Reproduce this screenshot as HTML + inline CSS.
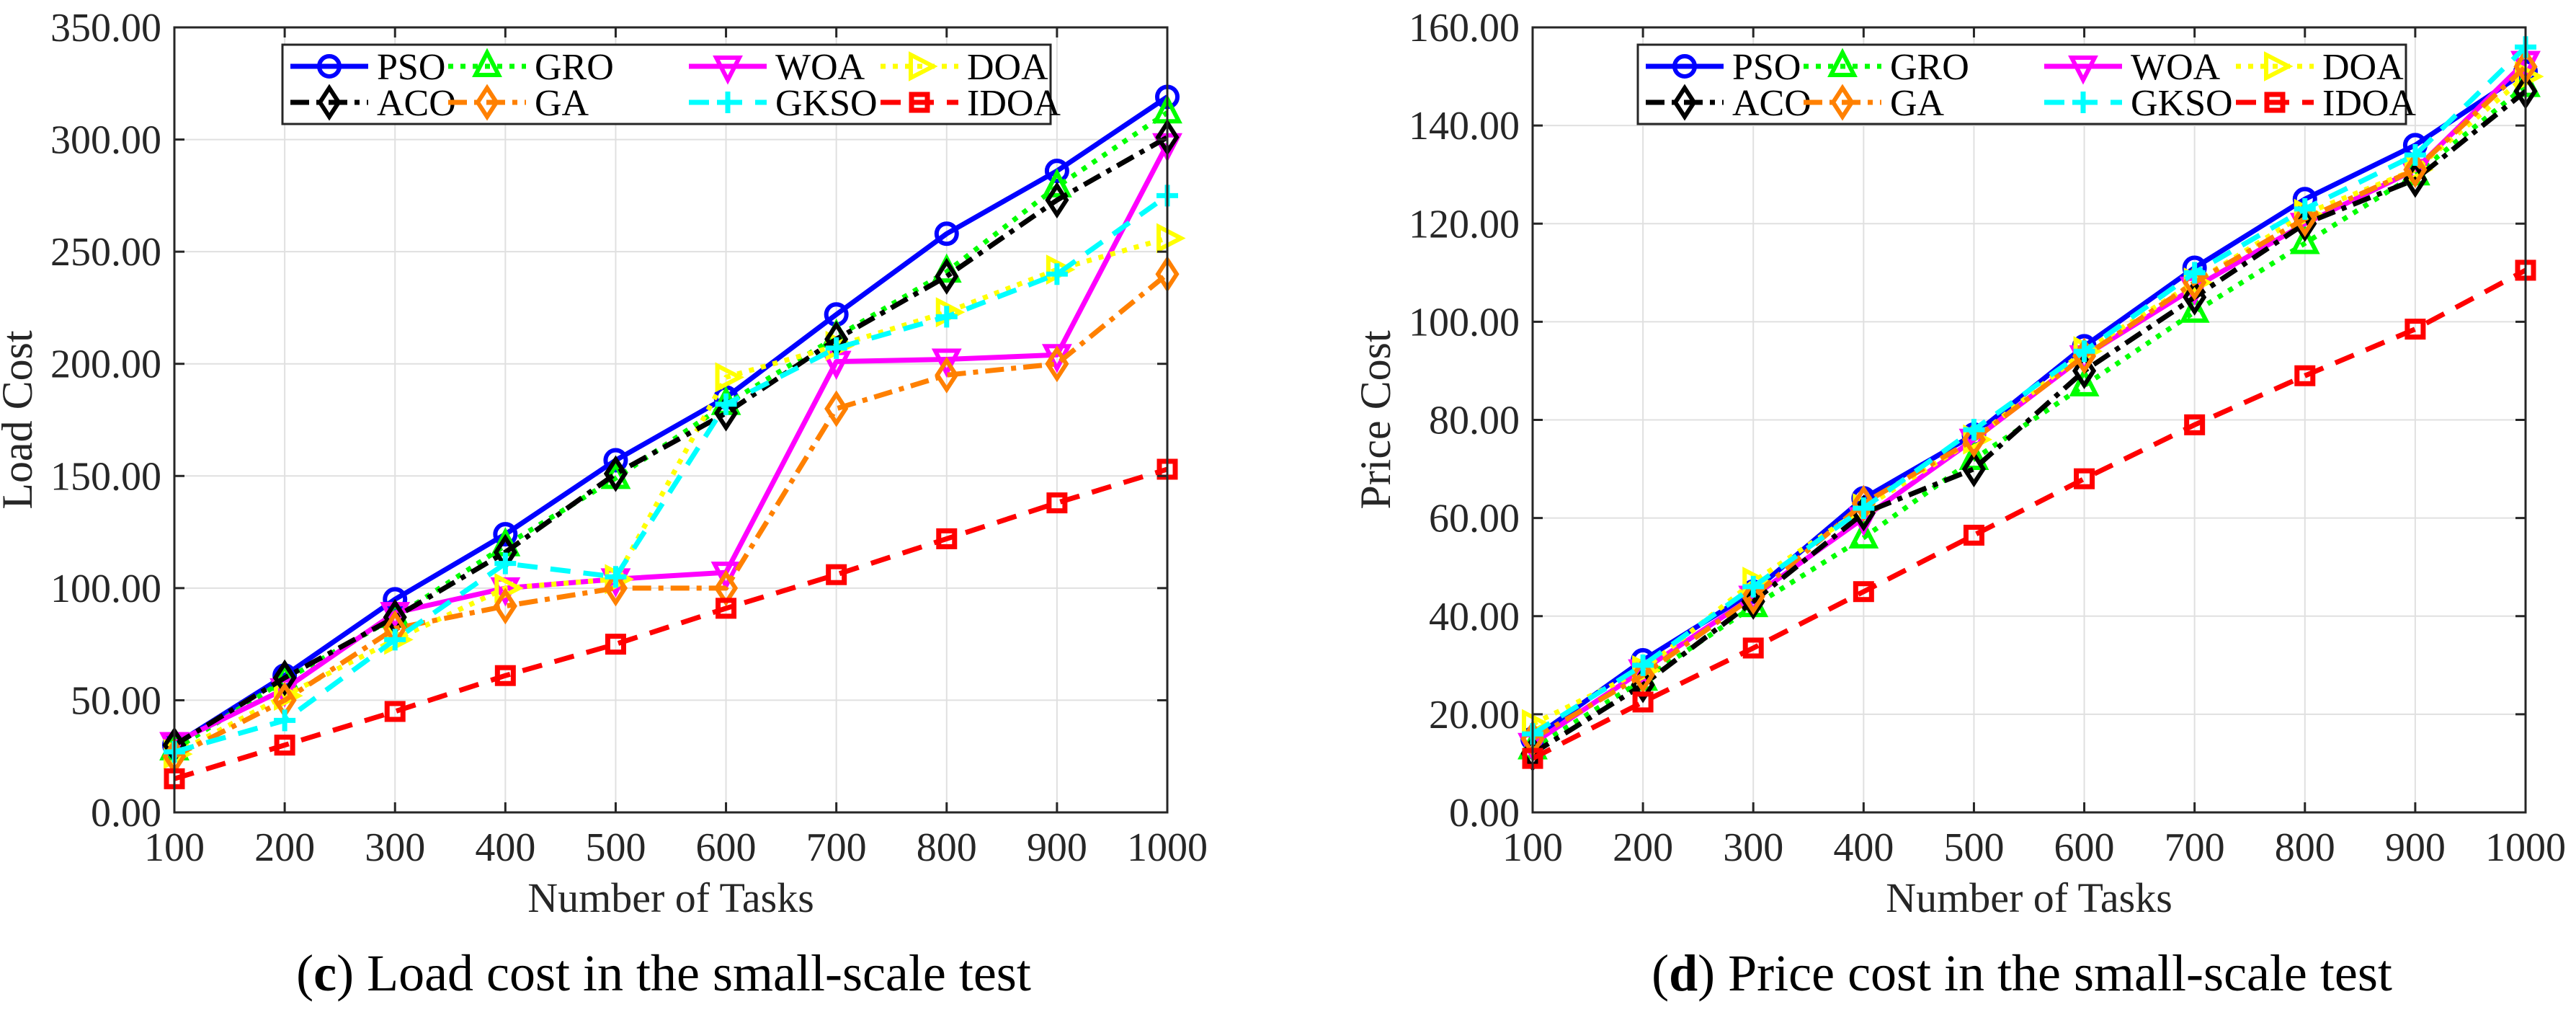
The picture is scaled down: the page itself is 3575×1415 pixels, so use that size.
<!DOCTYPE html>
<html><head><meta charset="utf-8"><style>
html,body{margin:0;padding:0;background:#fff;}
svg{display:block;}
svg text{font-family:"Liberation Serif","Times New Roman",serif;}
</style></head><body>
<svg id="fig" width="3575" height="1415" viewBox="0 0 3575 1415" xmlns="http://www.w3.org/2000/svg" font-family="Liberation Serif, serif"></svg>
<script>
const categories=[100,200,300,400,500,600,700,800,900,1000];
const seriesNames=["PSO","GRO","WOA","DOA","ACO","GA","GKSO","IDOA"];
// Load cost (c)
const loadPSO=[30,61,95,124,157,185,222,258,286,319];
const loadGRO=[28,59,87,119,149,182,212,241,279,312];
const loadWOA=[31,55,89,100,104,107,201,202,204,298];
const loadDOA=[26,52,77,100,104,194,208,223,242,256];
const loadACO=[30,60,87,116,151,178,211,239,273,301];
const loadGA=[25,50,82,92,100,100,180,195,200,240];
const loadGKSO=[27,41,77,111,105,182,207,221,240,275];
const loadIDOA=[15,30,45,61,75,91,106,122,138,153];
const loadTicks=["0.00","50.00","100.00","150.00","200.00","250.00","300.00","350.00"];
// Price cost (d)
const pricePSO=[15,31,45,64,77,95,111,125,136,151];
const priceGRO=[13,27,42,56,72,87,102,116,130,148];
const priceWOA=[14,29,44,60,76,93,107,120,131,153];
const priceDOA=[18,29,47,62,76,94,108,122,131,150];
const priceACO=[12,26,43,61,70,90,105,120,129,147];
const priceGA=[15,28,44,63,76,93,108,121,131,152];
const priceGKSO=[16,30,46,62,78,94,110,123,134,156];
const priceIDOA=[11,22.5,33.5,45,56.5,68,79,89,98.5,110.5];
const priceTicks=["0.00","20.00","40.00","60.00","80.00","100.00","120.00","140.00","160.00"];

const styles={
PSO:{c:"#0000ff",dash:"",m:"circle"},
GRO:{c:"#00ff00",dash:"7 10",m:"up"},
WOA:{c:"#ff00ff",dash:"",m:"down"},
DOA:{c:"#ffff00",dash:"7 10",m:"right"},
ACO:{c:"#000000",dash:"26 10 7 10",m:"diamond"},
GA:{c:"#ff8000",dash:"26 10 7 10",m:"diamond"},
GKSO:{c:"#00ffff",dash:"28 18",m:"plus"},
IDOA:{c:"#ff0000",dash:"28 18",m:"square"}};
const NS="http://www.w3.org/2000/svg";
const svg=document.getElementById("fig");
const FF="Liberation Serif, Times New Roman, serif";
function mk(tag,attrs,parent){const e=document.createElementNS(NS,tag);for(const k in attrs)e.setAttribute(k,attrs[k]);if(tag==="text")e.setAttribute("font-family",FF);(parent||svg).appendChild(e);return e;}
function marker(g,type,x,y,c){
  const s=16;let e;
  if(type==="circle")e=mk("circle",{cx:x,cy:y,r:14,fill:"none",stroke:c,"stroke-width":6},g);
  else if(type==="square")e=mk("rect",{x:x-11,y:y-11,width:22,height:22,fill:"none",stroke:c,"stroke-width":7},g);
  else if(type==="up")e=mk("polygon",{points:`${x},${y-s-3} ${x+s},${y+s-4} ${x-s},${y+s-4}`,fill:"none",stroke:c,"stroke-width":6},g);
  else if(type==="down")e=mk("polygon",{points:`${x},${y+s+3} ${x+s},${y-s+4} ${x-s},${y-s+4}`,fill:"none",stroke:c,"stroke-width":6},g);
  else if(type==="right")e=mk("polygon",{points:`${x+s+3},${y} ${x-s+4},${y-s} ${x-s+4},${y+s}`,fill:"none",stroke:c,"stroke-width":6},g);
  else if(type==="diamond")e=mk("polygon",{points:`${x},${y-20} ${x+13},${y} ${x},${y+20} ${x-13},${y}`,fill:"none",stroke:c,"stroke-width":6},g);
  else if(type==="plus")e=mk("path",{d:`M${x-15} ${y}H${x+15}M${x} ${y-15}V${y+15}`,fill:"none",stroke:c,"stroke-width":7},g);
  
  
}
function chart(id,L,ymax,ticks,series,ytitle,capLetter,capText,legX){
  const R=L+1378,T=38,B=1127;
  const g=mk("g",{});
  
  
  const xs=v=>L+(v-100)/900*(R-L);
  const ys=v=>B-v/ymax*(B-T);
  categories.forEach(c=>{const l=mk("line",{x1:xs(c),x2:xs(c),y1:T,y2:B,stroke:"#e0e0e0","stroke-width":2},g);});
  ticks.forEach((t,i)=>{const v=i*ymax/(ticks.length-1);const l=mk("line",{x1:L,x2:R,y1:ys(v),y2:ys(v),stroke:"#e0e0e0","stroke-width":2},g);});
  seriesNames.forEach((n,si)=>{
    const st=styles[n];const data=series[si];
    const pts=data.map((v,i)=>xs(categories[i])+","+ys(v)).join(" ");
    const pl=mk("polyline",{points:pts,fill:"none",stroke:st.c,"stroke-width":7,"stroke-dasharray":st.dash,"stroke-linejoin":"round"},g);
    
    
    data.forEach((v,i)=>marker(g,st.m,xs(categories[i]),ys(v),st.c));
  });
  const box=mk("rect",{x:L,y:T,width:R-L,height:B-T,fill:"none",stroke:"#262626","stroke-width":3},g);
  
  categories.forEach(c=>{
    const x=xs(c);
    mk("line",{x1:x,x2:x,y1:B,y2:B-14,stroke:"#262626","stroke-width":3},g);
    mk("line",{x1:x,x2:x,y1:T,y2:T+14,stroke:"#262626","stroke-width":3},g);
    const t=mk("text",{x:x,y:1194,"text-anchor":"middle","font-size":56,fill:"#262626"},g);t.textContent=c;
    
  });
  ticks.forEach((tk,i)=>{
    const y=ys(i*ymax/(ticks.length-1));
    mk("line",{x1:L,x2:L+14,y1:y,y2:y,stroke:"#262626","stroke-width":3},g);
    mk("line",{x1:R,x2:R-14,y1:y,y2:y,stroke:"#262626","stroke-width":3},g);
    const t=mk("text",{x:L-18,y:y+19,"text-anchor":"end","font-size":56,fill:"#262626"},g);t.textContent=tk;
    
  });
  const xt=mk("text",{x:(L+R)/2,y:1265,"text-anchor":"middle","font-size":58,fill:"#262626"},g);xt.textContent="Number of Tasks";
  
  const yx=L-198,yy=(T+B)/2;
  const yt=mk("text",{x:yx,y:yy,"text-anchor":"middle","font-size":60,fill:"#262626",transform:`rotate(-90 ${yx} ${yy})`},g);yt.textContent=ytitle;
  
  const lg=mk("g",{},g);
  
  mk("rect",{x:legX,y:62,width:1066,height:110,fill:"#fff",stroke:"#262626","stroke-width":3},lg);
  const cols=[0,219,553,819];
  seriesNames.forEach((n,i)=>{
    const st=styles[n];const tx=legX+131+cols[i%4];const y=i<4?92:142;
    const e=mk("g",{},lg);
    
    
    mk("line",{x1:tx-120,x2:tx-12,y1:y,y2:y,stroke:st.c,"stroke-width":7,"stroke-dasharray":st.dash},e);
    marker(e,st.m,tx-66,y,st.c);
    const t=mk("text",{x:tx,y:y+18,"font-size":52,fill:"#000"},e);t.textContent=n;
  });
  const cap=mk("text",{x:(L+R)/2-10,y:1374,"text-anchor":"middle","font-size":72,fill:"#000"},g);
  
  const a=mk("tspan",{},cap);a.textContent="(";
  const b=mk("tspan",{"font-weight":"bold"},cap);b.textContent=capLetter;
  const c=mk("tspan",{},cap);c.textContent=") "+capText;
}
chart("load-cost-chart",242,350,loadTicks,[loadPSO,loadGRO,loadWOA,loadDOA,loadACO,loadGA,loadGKSO,loadIDOA],"Load Cost","c","Load cost in the small-scale test",392);
chart("price-cost-chart",2127,160,priceTicks,[pricePSO,priceGRO,priceWOA,priceDOA,priceACO,priceGA,priceGKSO,priceIDOA],"Price Cost","d","Price cost in the small-scale test",2273);
</script>
</body></html>
